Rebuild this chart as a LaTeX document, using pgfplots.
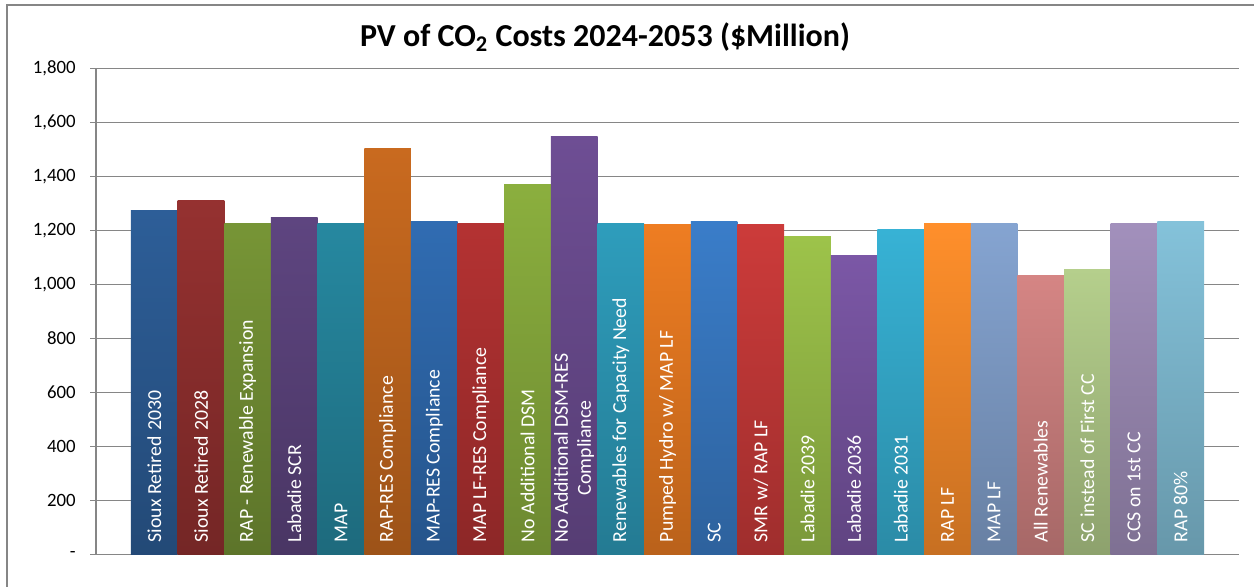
\documentclass[border=0pt]{standalone}
\usepackage{pgfplots}
\pgfplotsset{compat=1.18}
\usepackage{fontspec}
\setmainfont{Carlito}

% bar colours (top of gradient)
\definecolor{c1}{HTML}{2D5E98}
\definecolor{c2}{HTML}{953130}
\definecolor{c3}{HTML}{779536}
\definecolor{c4}{HTML}{5E4580}
\definecolor{c5}{HTML}{2688A0}
\definecolor{c6}{HTML}{C96A1F}
\definecolor{c7}{HTML}{306CB2}
\definecolor{c8}{HTML}{B43232}
\definecolor{c9}{HTML}{8BAF3E}
\definecolor{c10}{HTML}{6E4E94}
\definecolor{c11}{HTML}{2E9DBC}
\definecolor{c12}{HTML}{EE7D22}
\definecolor{c13}{HTML}{3A7DC9}
\definecolor{c14}{HTML}{CC3B3A}
\definecolor{c15}{HTML}{9DC34A}
\definecolor{c16}{HTML}{7B57A6}
\definecolor{c17}{HTML}{37B2D5}
\definecolor{c18}{HTML}{FF8F2B}
\definecolor{c19}{HTML}{85A4D1}
\definecolor{c20}{HTML}{D58584}
\definecolor{c21}{HTML}{B5CF8C}
\definecolor{c22}{HTML}{A290BC}
\definecolor{c23}{HTML}{84C2DA}
\definecolor{gridgray}{HTML}{868686}

\pgfplotsset{
  bb/.style={ybar, bar width=1, bar shift=0pt, draw=none,
    top color=#1, bottom color=#1!78!black},
}
\tikzset{
  lab/.style={rotate=90, anchor=west, text=white, align=center,
    font=\fontsize{9.9}{11.5}\selectfont, inner xsep=6pt, inner ysep=0pt},
}

\begin{document}
\begin{tikzpicture}
\useasboundingbox (0,0) rectangle (627pt,293pt);
\draw[gridgray, line width=1pt] (3.5pt,-2pt) -- (3.5pt,290.5pt) -- (630pt,290.5pt);
\node[anchor=base, font=\bfseries\fontsize{16}{19}\selectfont] at (302.5pt,270pt)
  {PV of CO\textsubscript{2} Costs 2024-2053 (\$Million)};

\begin{axis}[
  at={(48pt,15.75pt)}, anchor=south west,
  scale only axis, width=571.5pt, height=243pt,
  ybar,
  xmin=-1.25, xmax=23.25,
  ymin=0, ymax=1800,
  xtick=\empty,
  ytick={0,200,...,1800},
  yticklabels={-\hspace{4pt},200,400,600,800,{1,000},{1,200},{1,400},{1,600},{1,800}},
  yticklabel style={font=\fontsize{9.4}{11}\selectfont, inner xsep=0pt, xshift=-7pt},
  axis lines=left,
  axis line style={-, gridgray, line width=0.9pt},
  ymajorgrids=true,
  grid style={gridgray, line width=0.9pt},
  tick align=outside,
  major tick length=3pt,
  tick style={gridgray, line width=0.9pt},
  clip=false,
]
\addplot[bb=c1]  coordinates {(0,1275)};
\addplot[bb=c2]  coordinates {(1,1311)};
\addplot[bb=c3]  coordinates {(2,1227)};
\addplot[bb=c4]  coordinates {(3,1248)};
\addplot[bb=c5]  coordinates {(4,1227)};
\addplot[bb=c6]  coordinates {(5,1502)};
\addplot[bb=c7]  coordinates {(6,1233)};
\addplot[bb=c8]  coordinates {(7,1227)};
\addplot[bb=c9]  coordinates {(8,1371)};
\addplot[bb=c10] coordinates {(9,1549)};
\addplot[bb=c11] coordinates {(10,1227)};
\addplot[bb=c12] coordinates {(11,1223)};
\addplot[bb=c13] coordinates {(12,1233)};
\addplot[bb=c14] coordinates {(13,1223)};
\addplot[bb=c15] coordinates {(14,1177)};
\addplot[bb=c16] coordinates {(15,1108)};
\addplot[bb=c17] coordinates {(16,1202)};
\addplot[bb=c18] coordinates {(17,1227)};
\addplot[bb=c19] coordinates {(18,1227)};
\addplot[bb=c20] coordinates {(19,1034)};
\addplot[bb=c21] coordinates {(20,1056)};
\addplot[bb=c22] coordinates {(21,1227)};
\addplot[bb=c23] coordinates {(22,1233)};

\node[lab] at (axis cs:0,0) {Sioux Retired\hspace{0.3em}2030};
\node[lab] at (axis cs:1,0) {Sioux Retired\hspace{0.3em}2028};
\node[lab] at (axis cs:2,0) {RAP - Renewable Expansion};
\node[lab] at (axis cs:3,0) {Labadie SCR};
\node[lab] at (axis cs:4,0) {MAP};
\node[lab] at (axis cs:5,0) {RAP-RES Compliance};
\node[lab] at (axis cs:6,0) {MAP-RES Compliance};
\node[lab] at (axis cs:7,0) {MAP LF-RES Compliance};
\node[lab] at (axis cs:8,0) {No Additional DSM};
\node[lab] at (axis cs:9,0) {No Additional DSM-RES\\Compliance};
\node[lab] at (axis cs:10,0) {Renewables for Capacity Need};
\node[lab] at (axis cs:11,0) {Pumped Hydro w/ MAP LF};
\node[lab] at (axis cs:12,0) {SC};
\node[lab] at (axis cs:13,0) {SMR w/ RAP LF};
\node[lab] at (axis cs:14,0) {Labadie 2039};
\node[lab] at (axis cs:15,0) {Labadie 2036};
\node[lab] at (axis cs:16,0) {Labadie 2031};
\node[lab] at (axis cs:17,0) {RAP LF};
\node[lab] at (axis cs:18,0) {MAP LF};
\node[lab] at (axis cs:19,0) {All Renewables};
\node[lab] at (axis cs:20,0) {SC instead of First CC};
\node[lab] at (axis cs:21,0) {CCS on 1st CC};
\node[lab] at (axis cs:22,0) {RAP 80\%};
\end{axis}
\end{tikzpicture}
\end{document}
